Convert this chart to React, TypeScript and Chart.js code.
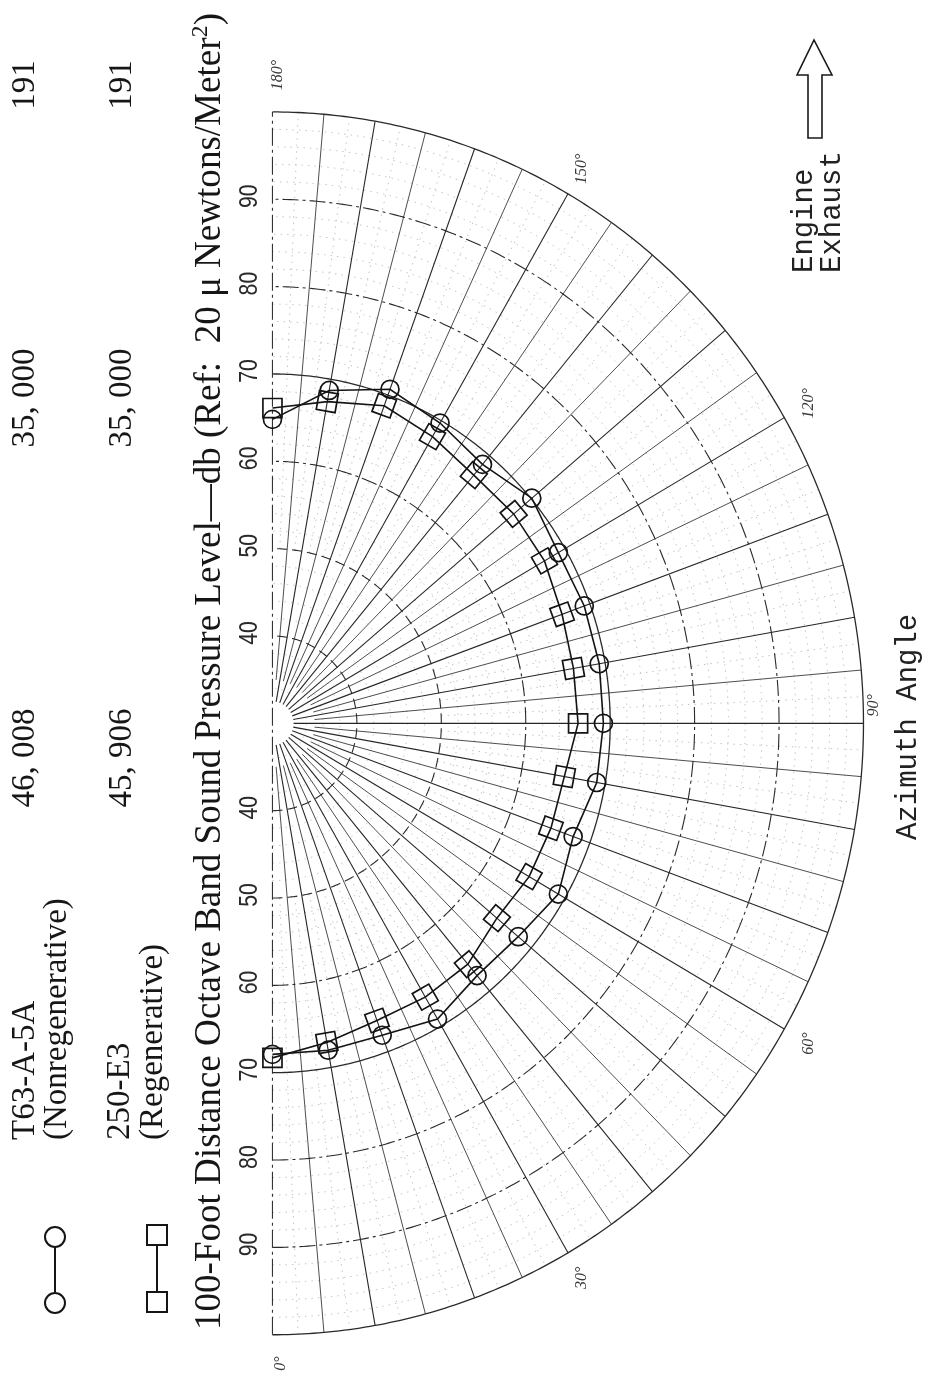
import React, { useEffect, useRef } from 'react';
import { Chart, registerables } from 'chart.js';

Chart.register(...registerables);

// ---- data ----
const azimuthAngles = [0, 10, 20, 30, 40, 50, 60, 70, 80, 90, 100, 110, 120, 130, 140, 150, 160, 170, 180];
const t63Levels = [67.9, 68.0, 68.0, 69.1, 67.7, 68.0, 69.1, 67.9, 69.0, 69.2, 69.3, 69.3, 69.1, 70.1, 68.7, 69.7, 70.7, 68.7, 64.8];
const e3Levels = [68.3, 67.1, 66.2, 66.2, 66.0, 64.7, 65.1, 65.1, 65.1, 66.2, 66.2, 66.5, 67.2, 67.3, 67.1, 67.9, 68.7, 67.4, 66.1];
const radialTicks = [40, 50, 60, 70, 80, 90];
const ringLevels = [40, 50, 60, 70, 80, 90, 100];
const angleLabels = [180, 150, 120, 90, 60, 30, 0];
const t63Name = ['T63-A-5A', '(Nonregenerative)'];
const e3Name = ['250-E3', '(Regenerative)'];
const t63Table = ['46, 008', '35, 000', '191'];
const e3Table = ['45, 906', '35, 000', '191'];
const titleMain = '100-Foot Distance Octave Band Sound Pressure Level\u2014db (Ref:  20 \u03bc Newtons/Meter';
const titleSup = '2';
const titleEnd = ')';

// ---- scale geometry ----
const CENTER_DB = 30;
const OUTER_DB = 100;
const W = 925;
const H = 1388;
const CX = 266;
const CY = 724;
const PX_X = 8.73;
const PX_Y = 8.93;
const XMIN = -CX / PX_X;
const XMAX = (W - CX) / PX_X;
const YMAX = CY / PX_Y;
const YMIN = -(H - CY) / PX_Y;

function polarToXY(db: number, az: number) {
  const r = db - CENTER_DB;
  const a = (az * Math.PI) / 180;
  return { x: r * Math.sin(a), y: -r * Math.cos(a) };
}

function vText(ctx: CanvasRenderingContext2D, text: string, x: number, y: number, font: string, align: CanvasTextAlign = 'center', baseline: CanvasTextBaseline = 'middle', color = '#161616', sx = 1) {
  ctx.save();
  ctx.translate(x, y);
  ctx.rotate(-Math.PI / 2);
  ctx.scale(sx, 1);
  ctx.font = font;
  ctx.textAlign = align;
  ctx.textBaseline = baseline;
  ctx.fillStyle = color;
  ctx.fillText(text, 0, 0);
  ctx.restore();
}

const polarGrid = {
  id: 'polarGrid',
  beforeDatasetsDraw(chart: any) {
    const { ctx } = chart;
    const xs = chart.scales.x;
    const ys = chart.scales.y;
    const P = (db: number, az: number) => {
      const p = polarToXY(db, az);
      return [xs.getPixelForValue(p.x), ys.getPixelForValue(p.y)];
    };
    const arc = (db: number) => {
      ctx.beginPath();
      for (let a = 0; a <= 180; a += 0.5) {
        const [px, py] = P(db, a);
        if (a === 0) ctx.moveTo(px, py);
        else ctx.lineTo(px, py);
      }
      ctx.stroke();
    };
    const ray = (az: number, from: number, to: number) => {
      const [x1, y1] = P(from, az);
      const [x2, y2] = P(to, az);
      ctx.beginPath();
      ctx.moveTo(x1, y1);
      ctx.lineTo(x2, y2);
      ctx.stroke();
    };
    ctx.save();
    ctx.lineCap = 'butt';
    // faint dotted background grid
    ctx.strokeStyle = '#c4c4c4';
    ctx.lineWidth = 1;
    ctx.setLineDash([1.5, 5]);
    for (let db = 34; db < OUTER_DB; db += 2) {
      if (db % 10 !== 0) arc(db);
    }
    for (let az = 2.5; az < 180; az += 2.5) {
      if (az % 5 !== 0) ray(az, 50, OUTER_DB);
    }
    ctx.setLineDash([]);
    // minor radials (5 deg)
    ctx.strokeStyle = '#3a3a3a';
    ctx.lineWidth = 0.9;
    for (let az = 5; az < 180; az += 10) ray(az, 35, OUTER_DB);
    // major radials (10 deg)
    ctx.strokeStyle = '#262626';
    ctx.lineWidth = 1.1;
    for (let az = 10; az < 180; az += 10) ray(az, 32.5, OUTER_DB);
    // vertical axis 0-180
    ctx.strokeStyle = '#333';
    ctx.lineWidth = 1.1;
    ctx.setLineDash([18, 4, 3, 4]);
    {
      const [x1, y1] = P(OUTER_DB, 0);
      const [x2, y2] = P(OUTER_DB, 180);
      ctx.beginPath();
      ctx.moveTo(x1, y1);
      ctx.lineTo(x2, y2);
      ctx.stroke();
    }
    // rings
    ringLevels.forEach((db) => {
      ctx.strokeStyle = '#2a2a2a';
      ctx.lineWidth = db === OUTER_DB || db === 70 ? 1.3 : 1.1;
      if (db === OUTER_DB || db === 70) ctx.setLineDash([]);
      else if (db <= 50) ctx.setLineDash([10, 5]);
      else ctx.setLineDash([16, 4, 3, 4]);
      arc(db);
    });
    ctx.restore();
  },
  afterDraw(chart: any) {
    const { ctx } = chart;
    const xs = chart.scales.x;
    const ys = chart.scales.y;
    const P = (db: number, az: number) => {
      const p = polarToXY(db, az);
      return [xs.getPixelForValue(p.x), ys.getPixelForValue(p.y)];
    };
    ctx.save();
    // radial tick labels along the axis
    radialTicks.forEach((t) => {
      const [, yTop] = P(t, 180);
      const [, yBot] = P(t, 0);
      vText(ctx, String(t), 250, yTop - 3, '25px "Liberation Sans"', 'center', 'middle', '#2a2a2a', 0.85);
      vText(ctx, String(t), 250, yBot - 3, '25px "Liberation Sans"', 'center', 'middle', '#2a2a2a', 0.85);
    });
    // azimuth angle labels
    angleLabels.forEach((a) => {
      let [px, py] = P(103.3, a);
      if (a === 90) { px -= 18; py -= 18; }
      if (a === 180) { py -= 8; px += 5; }
      if (a === 0) { px += 8; }
      vText(ctx, a + '\u00b0', px, py, 'italic 16px "Liberation Serif"', 'center', 'middle', '#3a3a3a');
    });
    // legend / table text
    const serif = '33px "Liberation Serif"';
    vText(ctx, t63Name[0], 25, 1140, serif, 'left');
    vText(ctx, t63Name[1], 57, 1140, serif, 'left');
    vText(ctx, e3Name[0], 120, 1140, serif, 'left');
    vText(ctx, e3Name[1], 153, 1140, serif, 'left');
    const tableY = [758, 398, 85];
    t63Table.forEach((s, i) => vText(ctx, s, 25, tableY[i], serif));
    e3Table.forEach((s, i) => vText(ctx, s, 122, tableY[i], serif));
    // legend symbols
    ctx.strokeStyle = '#151515';
    ctx.lineWidth = 2;
    ctx.beginPath();
    ctx.moveTo(55, 1247); ctx.lineTo(55, 1293);
    ctx.moveTo(157, 1245); ctx.lineTo(157, 1292);
    ctx.stroke();
    ctx.beginPath(); ctx.arc(55, 1237, 10, 0, Math.PI * 2); ctx.stroke();
    ctx.beginPath(); ctx.arc(55, 1303, 10, 0, Math.PI * 2); ctx.stroke();
    ctx.strokeRect(147, 1225, 20, 20);
    ctx.strokeRect(147, 1292, 20, 20);
    // axis title with superscript
    ctx.font = '33px "Liberation Serif"';
    const wm0 = ctx.measureText(titleMain).width;
    ctx.font = '21px "Liberation Serif"';
    const ws0 = ctx.measureText(titleSup).width;
    ctx.font = '33px "Liberation Serif"';
    const we0 = ctx.measureText(titleEnd).width;
    const k = 1317 / (wm0 + ws0 + we0);
    const fs = 33 * k;
    const startY = 1330;
    const titleX = 210;
    vText(ctx, titleMain, titleX, startY, `${fs}px "Liberation Serif"`, 'left');
    vText(ctx, titleSup, titleX - 9, startY - wm0 * k, `${21 * k}px "Liberation Serif"`, 'left');
    vText(ctx, titleEnd, titleX, startY - (wm0 + ws0) * k, `${fs}px "Liberation Serif"`, 'left');
    // Azimuth angle title
    vText(ctx, 'Azimuth Angle', 916, 840, '29px "Liberation Mono"', 'left', 'alphabetic', '#222');
    // Engine exhaust
    vText(ctx, 'Engine', 812, 273, '29px "Liberation Mono"', 'left', 'alphabetic', '#222');
    vText(ctx, 'Exhaust', 840, 273, '29px "Liberation Mono"', 'left', 'alphabetic', '#222');
    ctx.strokeStyle = '#1a1a1a';
    ctx.lineWidth = 1.6;
    ctx.beginPath();
    ctx.moveTo(808, 138);
    ctx.lineTo(808, 75);
    ctx.lineTo(797, 75);
    ctx.lineTo(814, 40);
    ctx.lineTo(832, 75);
    ctx.lineTo(822, 75);
    ctx.lineTo(822, 138);
    ctx.closePath();
    ctx.stroke();
    ctx.restore();
  },
};

export default function App() {
  const ref = useRef<HTMLCanvasElement>(null);
  useEffect(() => {
    const canvas = ref.current;
    if (!canvas) return;
    const t63Points = azimuthAngles.map((az, i) => polarToXY(t63Levels[i], az));
    const e3Points = azimuthAngles.map((az, i) => polarToXY(e3Levels[i], az));
    const chart = new Chart(canvas, {
      type: 'scatter',
      data: {
        datasets: [
          {
            label: 'T63-A-5A (Nonregenerative)',
            data: t63Points,
            showLine: true,
            borderColor: '#141414',
            borderWidth: 1.6,
            pointStyle: 'circle',
            pointRadius: 9,
            pointBorderWidth: 1.7,
            pointBorderColor: '#141414',
            pointBackgroundColor: 'rgba(0,0,0,0)',
          },
          {
            label: '250-E3 (Regenerative)',
            data: e3Points,
            showLine: true,
            borderColor: '#141414',
            borderWidth: 1.6,
            pointStyle: 'rect',
            pointRadius: 13.5,
            pointRotation: (c: any) => 90 - azimuthAngles[c.dataIndex],
            pointBorderWidth: 1.7,
            pointBorderColor: '#141414',
            pointBackgroundColor: 'rgba(0,0,0,0)',
          },
        ],
      } as any,
      options: {
        animation: false,
        responsive: false,
        devicePixelRatio: 1,
        events: [],
        layout: { padding: 0 },
        plugins: { legend: { display: false }, tooltip: { enabled: false } },
        scales: {
          x: { type: 'linear', min: XMIN, max: XMAX, display: false },
          y: { type: 'linear', min: YMIN, max: YMAX, display: false },
        },
      } as any,
      plugins: [polarGrid],
    });
    return () => chart.destroy();
  }, []);
  return (
    <div style={{ position: 'absolute', left: 0, top: 0, width: W, height: H, background: '#fff', overflow: 'hidden' }}>
      <canvas ref={ref} width={W} height={H} style={{ display: 'block', width: W, height: H }} />
    </div>
  );
}
